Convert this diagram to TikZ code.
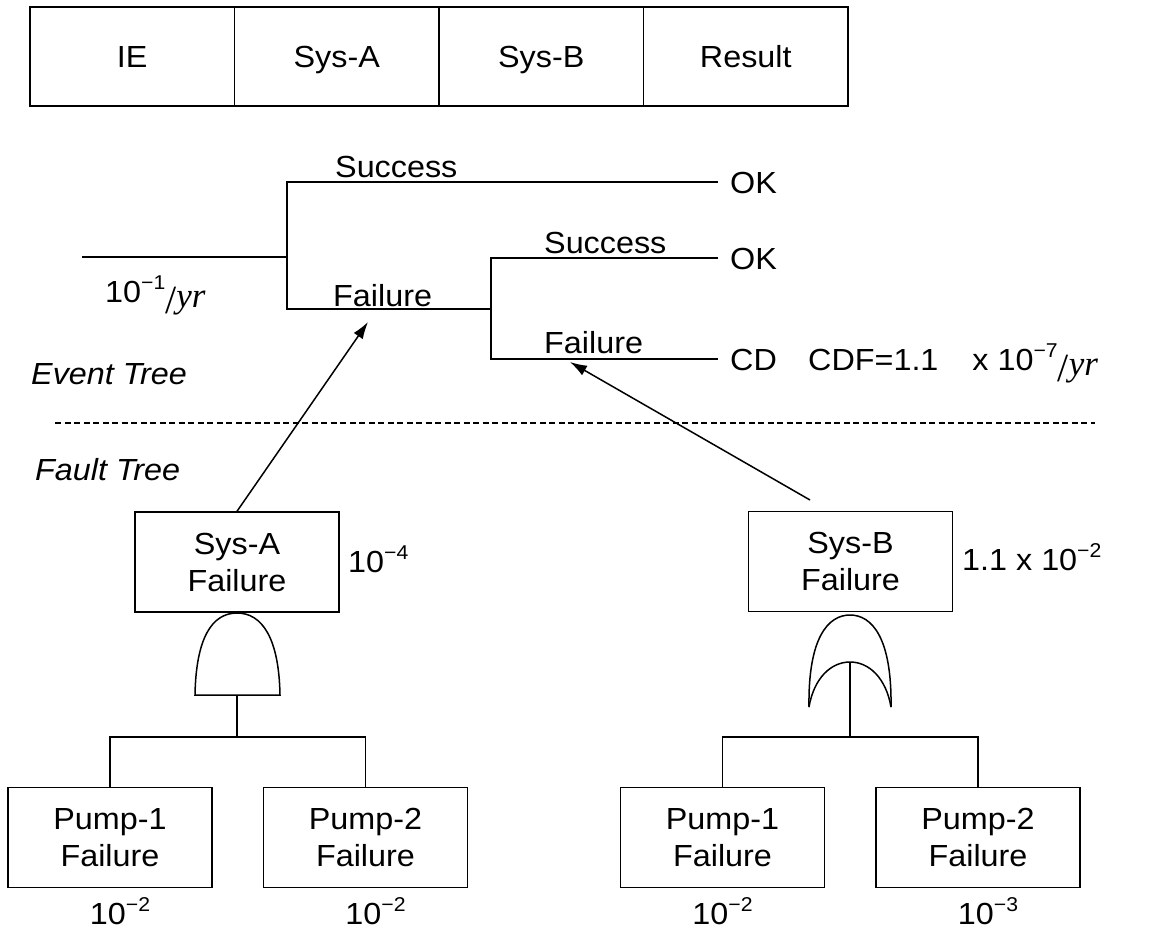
\documentclass[tikz,border=0pt]{standalone}
\usepackage{fontspec}
\setmainfont{Liberation Sans}[FakeStretch=1.06]
\newfontfamily\tms{Liberation Serif}
\usetikzlibrary{arrows.meta,calc}
\newcommand\expo[1]{\raisebox{0.42em}{\fontsize{20}{20}\selectfont #1}}
\newcommand\peryr{\raisebox{-11pt}{\fontsize{40}{40}\selectfont\tms /}\raisebox{-5pt}{\fontsize{35}{35}\selectfont\tms\itshape yr}}
\begin{document}
\begin{tikzpicture}[x=1pt,y=-1pt,
  every node/.style={font=\fontsize{30.5}{37}\selectfont, inner sep=0pt},
  ln/.style={line width=1.5pt},
  cell/.style={draw, line width=1.4pt, minimum width=204.5pt, minimum height=99pt,
    text height=22pt, text depth=0pt},
  fbox/.style={draw, line width=1.4pt, minimum width=204pt, minimum height=100pt, align=center},
  arr/.style={line width=1.5pt, -{Latex[length=17pt,width=11pt]}},
  dline/.style={line width=1.2pt, dash pattern=on 6pt off 3.5pt},
  lab/.style={anchor=base west},
]
\useasboundingbox (0,0) rectangle (1149,929);

% header
\node[cell] (hIE) at (132.25,56.5) {IE};
\node[cell] (hA) at (336.75,56.5) {Sys-A};
\node[cell] (hB) at (541.25,56.5) {Sys-B};
\node[cell] (hR) at (745.75,56.5) {Result};

% event tree
\coordinate (s0) at (82,257);
\coordinate (n1) at (287,257);
\coordinate (n1s) at (287,182);
\coordinate (n1f) at (287,309);
\coordinate (n2) at (491,309);
\coordinate (n2s) at (491,258);
\coordinate (n2f) at (491,359);
\coordinate (e1) at (718,182);
\coordinate (e2) at (718,258);
\coordinate (e3) at (718,359);
\draw[ln] (s0) -- (n1);
\draw[ln] (e1) -- (n1s) -- (n1f) -- (n2);
\draw[ln] (e2) -- (n2s) -- (n2f) -- (e3);

\node[lab] (ls1) at (335,177) {Success};
\node[lab] (lf1) at (333,306) {Failure};
\node[lab] (ls2) at (544,253) {Success};
\node[lab] (lf2) at (544,353) {Failure};
\node[anchor=west] (ok1) at ($(e1)+(12,1)$) {OK};
\node[anchor=west] (ok2) at ($(e2)+(12,1)$) {OK};
\node[anchor=west] (cd) at ($(e3)+(12,1)$) {CD};
\node[lab] (cdf) at (808,370) {CDF=1.1\hspace{34pt}x 10\expo{−7}\peryr};
\node[lab] (ie) at (105,302) {10\expo{−1}\peryr};
\node[lab, font=\fontsize{30.5}{37}\selectfont\itshape] (et) at (31,384) {Event Tree};
\node[lab, font=\fontsize{30.5}{37}\selectfont\itshape] (ft) at (35,480) {Fault Tree};

% divider
\coordinate (dl) at (55,423);
\coordinate (dr) at (1095,423);
\draw[dline] (dl) -- (dr);

% fault tree A
\node[fbox] (sysA) at (237,562) {Sys-A\\Failure};
\node[lab] (pA) at (348,572) {10\expo{−4}};
\coordinate (andB) at (237,695);
\draw[ln] (195,695) .. controls (196,638) and (212,613) .. (237,613)
          .. controls (262,613) and (279,638) .. (280,695) -- cycle;
\coordinate (barA) at (237,737);
\node[fbox] (a1) at (110,837.5) {Pump-1\\Failure};
\node[fbox] (a2) at (365.5,837.5) {Pump-2\\Failure};
\draw[ln] (andB) -- (barA);
\draw[ln] (a1.north) |- (barA) -| (a2.north);
\node[anchor=base] (pa1) at ($(a1.south)+(10,36)$) {10\expo{−2}};
\node[anchor=base] (pa2) at ($(a2.south)+(10,36)$) {10\expo{−2}};

% fault tree B
\node[fbox] (sysB) at (850.5,561.5) {Sys-B\\Failure};
\node[lab] (pB) at (962,570) {1.1 x 10\expo{−2}};
\coordinate (orIn) at (850,662);
\draw[ln] (809,707) .. controls (808,638) and (828,615) .. (850,615)
          .. controls (872,615) and (892,638) .. (891,707);
\draw[ln] (809,707) .. controls (814,678) and (831,662) .. (850,662)
          .. controls (869,662) and (886,678) .. (891,707);
\coordinate (barB) at (850,737);
\node[fbox] (b1) at (722.5,837.5) {Pump-1\\Failure};
\node[fbox] (b2) at (978,837.5) {Pump-2\\Failure};
\draw[ln] (orIn) -- (barB);
\draw[ln] (b1.north) |- (barB) -| (b2.north);
\node[anchor=base] (pb1) at ($(b1.south)+(0,36)$) {10\expo{−2}};
\node[anchor=base] (pb2) at ($(b2.south)+(10,36)$) {10\expo{−3}};

% arrows
\coordinate (tipA) at (368,322);
\coordinate (startB) at (810,500);
\coordinate (tipB) at (570,362);
\draw[arr] (sysA.north) -- (tipA);
\draw[arr] (startB) -- (tipB);
\end{tikzpicture}
\end{document}
